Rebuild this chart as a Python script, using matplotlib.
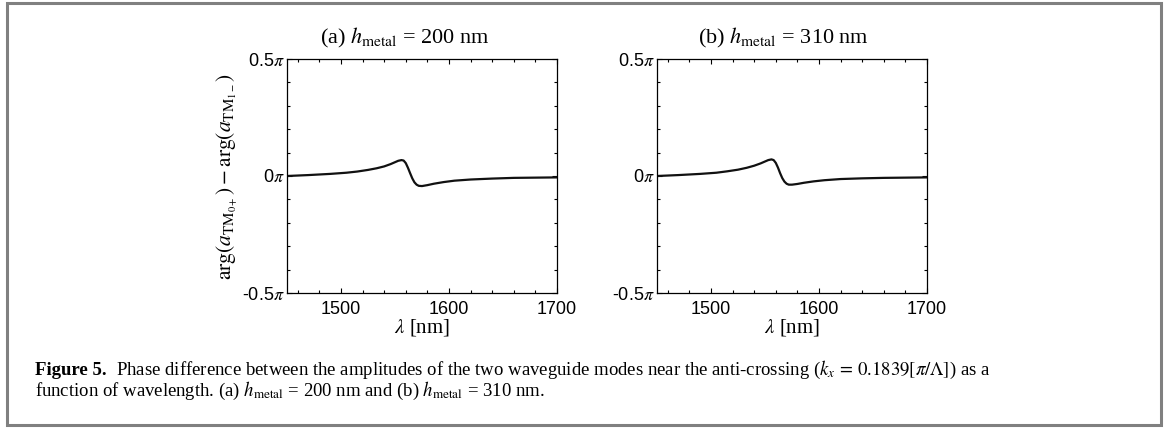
import matplotlib
matplotlib.use('Agg')
import matplotlib.pyplot as plt
from matplotlib.patches import Rectangle
from matplotlib.ticker import MultipleLocator

plt.rcParams['mathtext.fontset'] = 'stix'
plt.rcParams['font.family'] = ['Liberation Sans', 'DejaVu Sans']

# wavelength [nm] and phase difference [units of pi]
wl_a = [1450, 1470, 1490, 1505, 1515, 1525, 1533, 1540, 1546, 1550, 1553, 1556,
        1558, 1560, 1562, 1564, 1566, 1568, 1570, 1572, 1575, 1580, 1586, 1595,
        1605, 1620, 1640, 1660, 1680, 1700]
phase_a = [0.000, 0.004, 0.009, 0.014, 0.019, 0.026, 0.033, 0.041, 0.051, 0.059, 0.065, 0.068,
           0.066, 0.055, 0.035, 0.012, -0.010, -0.027, -0.037, -0.042, -0.043, -0.039, -0.033, -0.026,
           -0.020, -0.015, -0.011, -0.008, -0.007, -0.006]

wl_b = [1450, 1470, 1490, 1505, 1515, 1525, 1533, 1540, 1546, 1550, 1553, 1556,
        1558, 1560, 1562, 1564, 1566, 1568, 1570, 1572, 1575, 1580, 1586, 1595,
        1605, 1620, 1640, 1660, 1680, 1700]
phase_b = [0.000, 0.004, 0.009, 0.014, 0.020, 0.027, 0.035, 0.044, 0.054, 0.062, 0.068, 0.071,
           0.068, 0.056, 0.036, 0.012, -0.009, -0.024, -0.033, -0.037, -0.037, -0.034, -0.029, -0.023,
           -0.018, -0.013, -0.010, -0.008, -0.007, -0.006]

titles = [r'(a) $h_{\mathrm{metal}}$ = 200 nm', r'(b) $h_{\mathrm{metal}}$ = 310 nm']
yticks = [-0.5, 0.0, 0.5]
ytick_labels = [r'-0.5$\pi$', r'0$\pi$', r'0.5$\pi$']
xticks = [1500, 1600, 1700]

fig = plt.figure(figsize=(11.74, 4.30), dpi=100)

# frame around the whole figure, like the page box
fig.add_artist(Rectangle((7 / 1174, 5 / 430), 1154 / 1174, 422 / 430,
                         transform=fig.transFigure, fill=False,
                         edgecolor='#808080', linewidth=2.2))

ax_a = fig.add_axes([287 / 1174, 137 / 430, 270 / 1174, 234 / 430])
ax_b = fig.add_axes([657 / 1174, 137 / 430, 270 / 1174, 234 / 430])

# title centres sit a bit left of the axes centre in the original
title_x = [0.435, 0.47]

for i, (ax, wl, ph) in enumerate([(ax_a, wl_a, phase_a), (ax_b, wl_b, phase_b)]):
    ax.plot(wl, ph, color='#111111', linewidth=1.6, solid_joinstyle='round')
    ax.set_xlim(1450, 1700)
    ax.set_ylim(-0.5, 0.5)
    ax.set_xticks(xticks)
    ax.set_yticks(yticks)
    ax.set_yticklabels(ytick_labels)
    ax.xaxis.set_minor_locator(MultipleLocator(20))
    ax.yaxis.set_minor_locator(MultipleLocator(0.1))
    ax.tick_params(which='both', direction='in', top=True, right=True,
                   labelsize=13, width=0.8)
    ax.tick_params(axis='x', pad=6)
    ax.tick_params(axis='y', pad=2)
    ax.tick_params(which='major', length=3.5)
    ax.tick_params(which='minor', length=2.5)
    for s in ax.spines.values():
        s.set_linewidth(0.9)
    ax.set_title(titles[i], fontsize=16, family='Liberation Serif', x=title_x[i], pad=11)
    ax.set_xlabel(r'$\lambda$ [nm]', fontsize=15, family='Liberation Serif', labelpad=-1)

ax_a.set_ylabel(r'$\mathrm{arg}\left(a_{\mathrm{TM}_{0+}}\right) - \mathrm{arg}\left(a_{\mathrm{TM}_{1-}}\right)$',
                fontsize=15.5, labelpad=1)

# caption
renderer = fig.canvas.get_renderer()
cap_y1 = 1 - 375 / 430
cap_y2 = 1 - 396 / 430
cap_fs = 13.5
fig_lbl = fig.text(35 / 1174, cap_y1, 'Figure 5.', fontsize=cap_fs, family='Liberation Serif',
                   fontweight='bold', va='baseline')
bb = fig_lbl.get_window_extent(renderer)
fig.text(bb.x1 / 1174 + 9 / 1174, cap_y1,
         r'Phase difference between the amplitudes of the two waveguide modes near the anti-crossing '
         r'($k_x\,=\,0.1839[\pi/\Lambda]$) as a',
         fontsize=cap_fs, family='Liberation Serif', va='baseline')
fig.text(35 / 1174, cap_y2,
         r'function of wavelength. (a) $h_{\mathrm{metal}}$ = 200 nm and (b) $h_{\mathrm{metal}}$ = 310 nm.',
         fontsize=cap_fs, family='Liberation Serif', va='baseline')

fig.savefig('out.png', dpi=100)
